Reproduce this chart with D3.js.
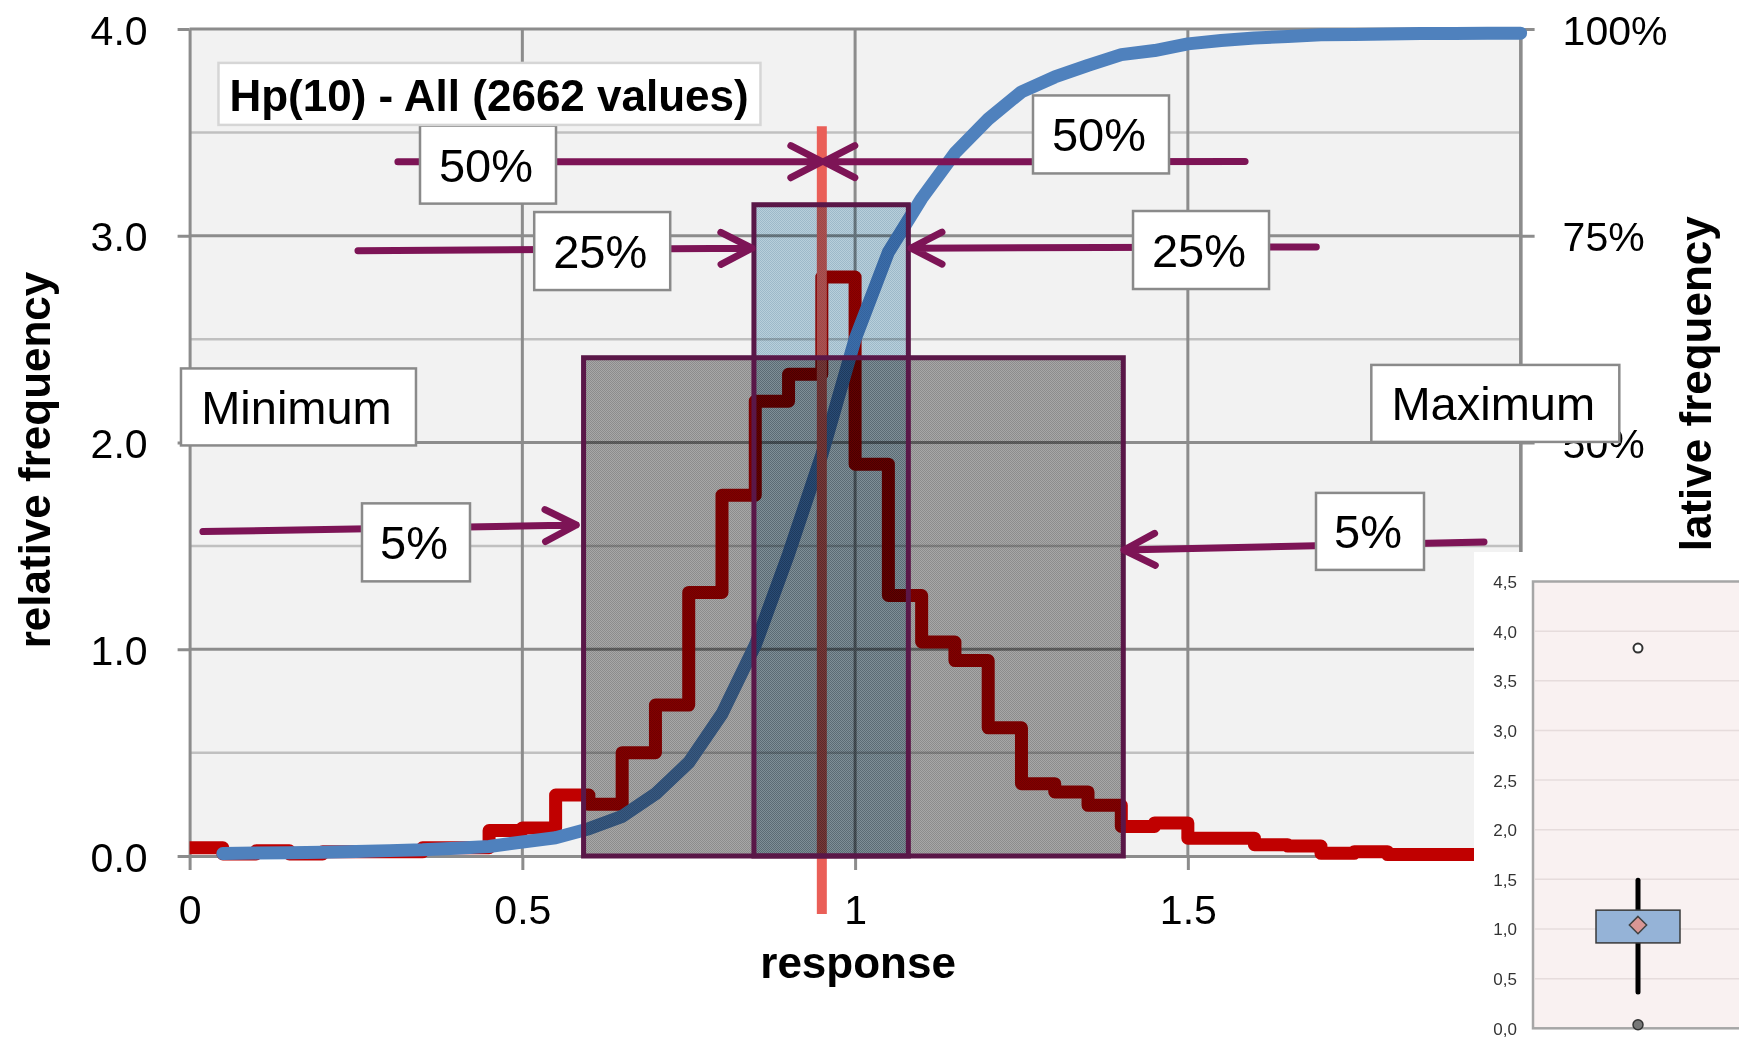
<!DOCTYPE html>
<html>
<head>
<meta charset="utf-8">
<script src="https://cdn.jsdelivr.net/npm/d3@7"></script>
<style>
  body { margin: 0; background: #fff; }
  svg { display: block; font-family: "Liberation Sans", Arial, sans-serif; }
</style>
</head>
<body>
<svg id="chart" width="1739" height="1038"></svg>
<script>
// ---------- data ----------
// histogram bins (left edge of each 0.05-wide bin) and their relative frequency
const binStart = [0.00, 0.05, 0.10, 0.15, 0.20, 0.25, 0.30, 0.35, 0.40, 0.45,
                  0.50, 0.55, 0.60, 0.65, 0.70, 0.75, 0.80, 0.85, 0.90, 0.95,
                  1.00, 1.05, 1.10, 1.15, 1.20, 1.25, 1.30, 1.35, 1.40, 1.45,
                  1.50, 1.55, 1.60, 1.65, 1.70, 1.75, 1.80, 1.85, 1.90, 1.95];
const binFreq  = [0.040, 0.010, 0.025, 0.010, 0.020, 0.020, 0.020, 0.040, 0.040, 0.123,
                  0.136, 0.295, 0.250, 0.500, 0.730, 1.275, 1.745, 2.200, 2.330, 2.800,
                  1.895, 1.260, 1.035, 0.945, 0.620, 0.350, 0.310, 0.245, 0.143, 0.160,
                  0.086, 0.086, 0.055, 0.048, 0.013, 0.021, 0.007, 0.007, 0.007, 0.007];
const binEnd = 2.0;

// cumulative relative frequency (%)
const cumX   = [0.05, 0.10, 0.15, 0.20, 0.25, 0.30, 0.35, 0.40, 0.45, 0.50,
                0.55, 0.60, 0.65, 0.70, 0.75, 0.80, 0.85, 0.90, 0.95, 1.00,
                1.05, 1.10, 1.15, 1.20, 1.25, 1.30, 1.35, 1.40, 1.45, 1.50,
                1.55, 1.60, 1.65, 1.70, 1.75, 1.80, 1.85, 1.90, 1.95, 2.00];
const cumPct = [0.3, 0.35, 0.4, 0.45, 0.55, 0.65, 0.75, 0.95, 1.15, 1.7,
                2.2, 3.3, 4.8, 7.5, 11.3, 17.2, 25.5, 36.5, 48.5, 62.5,
                73.0, 79.5, 85.0, 89.1, 92.4, 94.2, 95.6, 96.9, 97.4, 98.2,
                98.6, 98.9, 99.1, 99.3, 99.35, 99.4, 99.45, 99.45, 99.5, 99.5];

// quantiles of the response
const p05 = 0.592, p25 = 0.848, median = 0.95, p75 = 1.08, p95 = 1.403;
const box90Height = 2.41;   // 5%..95% block
const box50Height = 3.15;   // 25%..75% block

// axis ticks
const xTickValues = [0, 0.5, 1, 1.5];
const xTickLabels = ["0", "0.5", "1", "1.5"];
const yTickValues = [0, 1, 2, 3, 4];
const yMinorValues = [0.5, 1.5, 2.5, 3.5];
const xGridValues = [0.5, 1, 1.5, 2];
const pctTickValues = [0, 25, 50, 75, 100];

// box plot panel (comma decimals)
const insetTicks = [0, 0.5, 1, 1.5, 2, 2.5, 3, 3.5, 4, 4.5];
const insetCategory = ["Hp(10)"];
const insetBox = { q1: 0.86, q3: 1.19, low: 0.365, high: 1.49, mean: 1.04 };
const insetOutliersOpen = [3.83];
const insetOutliersFilled = [0.036];

// ---------- layout ----------
const svg = d3.select("#chart");
const x = d3.scaleLinear().domain([0, 2]).range([189.6, 1520.6]);
const y = d3.scaleLinear().domain([0, 4]).range([856, 29]);
const yPct = d3.scaleLinear().domain([0, 100]).range([856, 29]);

const COL = {
  bg: "#f2f2f2", gridMajor: "#8c8c8c", gridMinor: "#c0c0c0",
  hist: "#c00000", cum: "#4f81bd", median: "#ea5f58",
  arrow: "#7d1456", boxEdge: "#5a1748", labelEdge: "#8a8a8a"
};

const defs = svg.append("defs");
function checker(id, a, b) {
  const p = defs.append("pattern").attr("id", id)
    .attr("width", 2).attr("height", 2).attr("patternUnits", "userSpaceOnUse");
  p.append("rect").attr("width", 2).attr("height", 2).attr("fill", a);
  p.append("rect").attr("width", 1).attr("height", 1).attr("fill", b);
  p.append("rect").attr("x", 1).attr("y", 1).attr("width", 1).attr("height", 1).attr("fill", b);
}
checker("grayDots", "#b0b0b0", "#949494");
checker("blueDots", "#c2dae7", "#a6c3d4");
defs.append("filter").attr("id", "soft")
  .append("feGaussianBlur").attr("stdDeviation", 0.55);

svg.append("rect").attr("width", 1739).attr("height", 1038).attr("fill", "#fff");

// plot background
svg.append("rect")
  .attr("x", x(0)).attr("y", y(4))
  .attr("width", x(2) - x(0)).attr("height", y(0) - y(4))
  .attr("fill", COL.bg);

// gridlines
const grid = svg.append("g");
grid.selectAll(".hmin").data(yMinorValues).join("line")
  .attr("x1", x(0)).attr("x2", x(2)).attr("y1", d => y(d)).attr("y2", d => y(d))
  .attr("stroke", COL.gridMinor).attr("stroke-width", 2.5);
grid.selectAll(".hmaj").data(yTickValues.filter(d => d > 0)).join("line")
  .attr("x1", x(0)).attr("x2", x(2)).attr("y1", d => y(d)).attr("y2", d => y(d))
  .attr("stroke", COL.gridMajor).attr("stroke-width", 3);
grid.selectAll(".vmaj").data(xGridValues).join("line")
  .attr("x1", d => x(d)).attr("x2", d => x(d)).attr("y1", y(0)).attr("y2", y(4))
  .attr("stroke", COL.gridMajor).attr("stroke-width", 3);

function styleAxis(g) {
  g.select(".domain").attr("stroke", COL.gridMajor).attr("stroke-width", 3);
  g.selectAll(".tick line").attr("stroke", COL.gridMajor).attr("stroke-width", 3);
  g.selectAll(".tick text").attr("fill", "#000").style("font-size", "41px");
}

// left axis
svg.append("g").attr("transform", `translate(${x(0)},0)`)
  .call(d3.axisLeft(y).tickValues(yTickValues).tickFormat(d3.format(".1f"))
    .tickSize(12).tickSizeOuter(0).tickPadding(30))
  .call(styleAxis)
  .call(g => g.selectAll(".tick text").attr("dy", "0.37em"));

// right axis (cumulative %)
svg.append("g").attr("transform", `translate(${x(2)},0)`)
  .call(d3.axisRight(yPct).tickValues(pctTickValues).tickFormat(d => d + "%")
    .tickSize(14).tickSizeOuter(0).tickPadding(28))
  .call(styleAxis)
  .call(g => g.selectAll(".tick text").attr("dy", "0.37em"));

// bottom axis
svg.append("g").attr("transform", `translate(0,${y(0)})`)
  .call(d3.axisBottom(x).tickValues(xTickValues).tickFormat((d, i) => xTickLabels[i])
    .tickSize(14).tickSizeOuter(0).tickPadding(25))
  .call(styleAxis);

// axis titles
svg.append("text")
  .attr("transform", `translate(50,460) rotate(-90)`)
  .attr("text-anchor", "middle").attr("font-weight", "bold").attr("font-size", 44)
  .text("relative frequency");
svg.append("text")
  .attr("transform", `translate(1711,462) rotate(-90)`)
  .attr("text-anchor", "middle").attr("font-weight", "bold").attr("font-size", 44)
  .text("cum. relative frequency");
svg.append("text")
  .attr("x", x(1) + 3).attr("y", 978)
  .attr("text-anchor", "middle").attr("font-weight", "bold").attr("font-size", 44)
  .text("response");

// histogram as a step line
const histPts = binStart.map((b, i) => [b, binFreq[i]]);
histPts.push([binEnd, binFreq[binFreq.length - 1]]);
svg.append("path")
  .attr("d", d3.line().x(d => x(d[0])).y(d => y(d[1])).curve(d3.curveStepAfter)(histPts))
  .attr("fill", "none").attr("stroke", COL.hist).attr("stroke-width", 13)
  .attr("stroke-linejoin", "round");

// cumulative curve
svg.append("path")
  .attr("d", d3.line().x((d, i) => x(cumX[i])).y(d => yPct(d))(cumPct))
  .attr("fill", "none").attr("stroke", COL.cum).attr("stroke-width", 13)
  .attr("stroke-linejoin", "round").attr("stroke-linecap", "round");

// median marker
svg.append("line")
  .attr("x1", x(median)).attr("x2", x(median))
  .attr("y1", y(3.53)).attr("y2", y(-0.28))
  .attr("stroke", COL.median).attr("stroke-width", 10);

// quantile blocks
const blocks = [
  { lo: p05, hi: p95, h: box90Height, fill: "url(#grayDots)" },
  { lo: p25, hi: p75, h: box50Height, fill: "url(#blueDots)" }
];
svg.selectAll(".blockFill").data(blocks).join("rect")
  .attr("x", d => x(d.lo)).attr("y", d => y(d.h))
  .attr("width", d => x(d.hi) - x(d.lo)).attr("height", d => y(0) - y(d.h))
  .attr("fill", d => d.fill).style("mix-blend-mode", "multiply");
svg.selectAll(".blockEdge").data(blocks).join("rect")
  .attr("x", d => x(d.lo)).attr("y", d => y(d.h))
  .attr("width", d => x(d.hi) - x(d.lo)).attr("height", d => y(0) - y(d.h))
  .attr("fill", "none").attr("stroke", COL.boxEdge).attr("stroke-width", 5);

// arrows pointing at the quantiles
const arrows = [
  { from: [0.313, 3.358], to: [median, 3.358] },
  { from: [1.586, 3.359], to: [median + 0.003, 3.358] },
  { from: [0.253, 2.928], to: [p25 - 0.003, 2.94] },
  { from: [1.693, 2.946], to: [p75 + 0.004, 2.94] },
  { from: [0.020, 1.569], to: [p05 - 0.011, 1.601] },
  { from: [1.945, 1.519], to: [p95 + 0.001, 1.480] }
];
function arrowPath(a) {
  const x1 = x(a.from[0]), y1 = y(a.from[1]), x2 = x(a.to[0]), y2 = y(a.to[1]);
  const dx = x2 - x1, dy = y2 - y1, L = Math.hypot(dx, dy);
  const ux = dx / L, uy = dy / L, back = 31, half = 16;
  const bx = x2 - ux * back, by = y2 - uy * back;
  const p = d3.path();
  p.moveTo(x1, y1); p.lineTo(x2, y2);
  p.moveTo(bx - uy * half, by + ux * half); p.lineTo(x2, y2);
  p.lineTo(bx + uy * half, by - ux * half);
  return p.toString();
}
svg.selectAll(".arrow").data(arrows).join("path")
  .attr("d", arrowPath).attr("fill", "none")
  .attr("stroke", COL.arrow).attr("stroke-width", 7)
  .attr("stroke-linecap", "round").attr("stroke-linejoin", "round");

// label boxes (centre in data units, size in px)
const labels = [
  { text: "50%", cx: 0.4484, cy: 3.344, w: 136, h: 78 },
  { text: "50%", cx: 1.3695, cy: 3.490, w: 136, h: 78 },
  { text: "25%", cx: 0.6200, cy: 2.926, w: 136, h: 78 },
  { text: "25%", cx: 1.5198, cy: 2.931, w: 136, h: 78 },
  { text: "Minimum", cx: 0.1636, cy: 2.172, w: 235, h: 77 },
  { text: "5%", cx: 0.3402, cy: 1.517, w: 108, h: 78 },
  { text: "Maximum", cx: 1.9620, cy: 2.189, w: 248, h: 77 },
  { text: "5%", cx: 1.7737, cy: 1.570, w: 108, h: 77 }
];
const lg = svg.selectAll(".lbl").data(labels).join("g");
lg.append("rect")
  .attr("x", d => x(d.cx) - d.w / 2).attr("y", d => y(d.cy) - d.h / 2)
  .attr("width", d => d.w).attr("height", d => d.h)
  .attr("fill", "#fff").attr("stroke", COL.labelEdge).attr("stroke-width", 2.5);
lg.append("text")
  .attr("x", d => x(d.cx) - 2).attr("y", d => y(d.cy) + 17)
  .attr("text-anchor", "middle").attr("font-size", 47).attr("fill", "#000")
  .text(d => d.text);

// title box
const titleBox = { x0: 0.0434, top: 3.836, w: 542, h: 62 };
svg.append("rect")
  .attr("x", x(titleBox.x0)).attr("y", y(titleBox.top))
  .attr("width", titleBox.w).attr("height", titleBox.h)
  .attr("fill", "#fff").attr("stroke", "#d6d6d6").attr("stroke-width", 2.5);
svg.append("text")
  .attr("x", x(titleBox.x0) + 11).attr("y", y(titleBox.top) + 48)
  .attr("font-weight", "bold").attr("font-size", 44)
  .text("Hp(10) - All (2662 values)");

// ---------- box plot panel ----------
const inset = svg.append("g").attr("filter", "url(#soft)");
inset.append("rect").attr("x", 1474).attr("y", 552).attr("width", 265).attr("height", 486).attr("fill", "#fff");
const yIn = d3.scaleLinear().domain([0, 4.5]).range([1028.3, 581.5]);
const xIn = d3.scaleBand().domain(insetCategory).range([1533, 1743]);
const cx = xIn(insetCategory[0]) + xIn.bandwidth() / 2;

inset.append("rect")
  .attr("x", 1533).attr("y", yIn(4.5)).attr("width", 220).attr("height", yIn(0) - yIn(4.5))
  .attr("fill", "#f9f1f1").attr("stroke", "#a6a6a6").attr("stroke-width", 2.5);
inset.selectAll(".ig").data(insetTicks.filter(d => d > 0 && d < 4.5)).join("line")
  .attr("x1", 1534.5).attr("x2", 1739).attr("y1", d => yIn(d)).attr("y2", d => yIn(d))
  .attr("stroke", "#e6dcdc").attr("stroke-width", 1.5);
inset.append("g").attr("transform", "translate(1533,0)")
  .call(d3.axisLeft(yIn).tickValues(insetTicks)
    .tickFormat(d => d.toFixed(1).replace(".", ",")).tickSize(0).tickPadding(16))
  .call(g => g.select(".domain").remove())
  .call(g => g.selectAll(".tick text").attr("fill", "#333").style("font-size", "17px").attr("dy", "0.35em"));

inset.append("line")
  .attr("x1", cx).attr("x2", cx).attr("y1", yIn(insetBox.high)).attr("y2", yIn(insetBox.low))
  .attr("stroke", "#000").attr("stroke-width", 5).attr("stroke-linecap", "round");
inset.append("rect")
  .attr("x", cx - 42).attr("y", yIn(insetBox.q3))
  .attr("width", 84).attr("height", yIn(insetBox.q1) - yIn(insetBox.q3))
  .attr("fill", "#95b3d7").attr("stroke", "#3a3a3a").attr("stroke-width", 1.5);
inset.append("path")
  .attr("d", d3.symbol(d3.symbolDiamond2, 190)())
  .attr("transform", `translate(${cx},${yIn(insetBox.mean)})`)
  .attr("fill", "#d99694").attr("stroke", "#404040").attr("stroke-width", 1.5);
inset.selectAll(".oo").data(insetOutliersOpen).join("circle")
  .attr("cx", cx).attr("cy", d => yIn(d)).attr("r", 4.5)
  .attr("fill", "#fff").attr("stroke", "#333").attr("stroke-width", 2);
inset.selectAll(".of").data(insetOutliersFilled).join("circle")
  .attr("cx", cx).attr("cy", d => yIn(d)).attr("r", 5)
  .attr("fill", "#777").attr("stroke", "#333").attr("stroke-width", 1.5);
</script>
</body>
</html>
